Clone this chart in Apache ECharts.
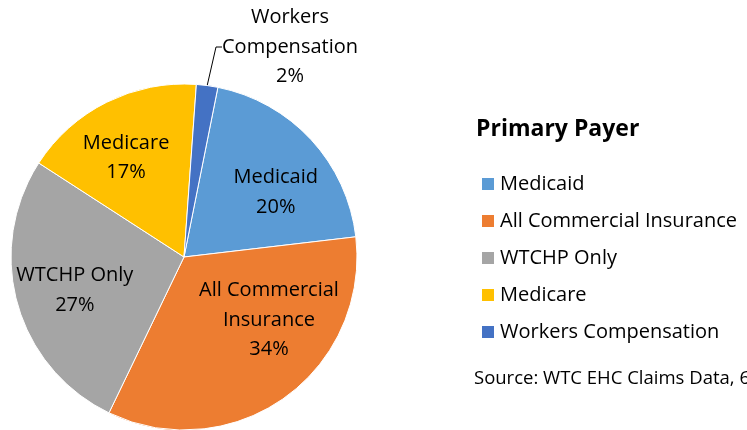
<!DOCTYPE html>
<html><head><meta charset="utf-8">
<script src="https://cdn.jsdelivr.net/npm/echarts@6/dist/echarts.min.js"></script>
<style>html,body{margin:0;padding:0;background:#fff}#c{width:747px;height:430px}</style>
</head><body><div id="c"></div>
<script>
const categories = ['Medicaid', 'All Commercial Insurance', 'WTCHP Only', 'Medicare', 'Workers Compensation'];
const values = [20, 34, 27, 17, 2];
const sliceLabels = ['Medicaid', 'All Commercial\nInsurance', 'WTCHP Only', 'Medicare', 'Workers\nCompensation'];
const colors = ['#5B9BD5', '#ED7D31', '#A5A5A5', '#FFC000', '#4472C4'];
const labelShift = [[26, -4], [33, -10], [-23, 9], [-18, -19], null];
const FONT = 'Open Sans';

const chart = echarts.init(document.getElementById('c'), null, {renderer: 'canvas'});
const data = categories.map((c, i) => {
  const d = {name: c, value: values[i], itemStyle: {color: colors[i]}};
  if (labelShift[i]) {
    d.label = {position: 'inside', offset: labelShift[i]};
  } else {
    d.label = {position: 'outside'};
    d.labelLine = {show: true, length: 30, length2: 6, lineStyle: {color: '#000', width: 1}};
  }
  return d;
});
chart.setOption({
  animation: false,
  title: [{
    text: 'Primary Payer', left: 476, top: 118, padding: 0,
    textStyle: {fontFamily: FONT, fontSize: 23, fontWeight: 'bold', color: '#000'}
  }, {
    text: 'Source: WTC EHC Claims Data, 6/30/2016', left: 474, top: 369, padding: 0,
    textStyle: {fontFamily: FONT, fontSize: 18.5, fontWeight: 'normal', color: '#000'}
  }],
  legend: {
    orient: 'vertical', left: 480, top: 174, padding: 0, itemWidth: 14, itemHeight: 14, itemGap: 17,
    icon: 'rect', data: categories,
    textStyle: {fontFamily: FONT, fontSize: 20, lineHeight: 20, color: '#000'}
  },
  series: [{
    type: 'pie', center: [184, 257], radius: 173, startAngle: 78.7, clockwise: true,
    avoidLabelOverlap: false,
    itemStyle: {borderColor: '#fff', borderWidth: 1},
    label: {
      show: true, fontFamily: FONT, fontSize: 20, color: '#000', lineHeight: 29.5, align: 'center',
      formatter: p => sliceLabels[p.dataIndex] + '\n' + p.value + '%'
    },
    labelLayout: function (p) {
      if (p.dataIndex === 4) {
        return {x: 290, y: 47, align: 'center', verticalAlign: 'middle'};
      }
      return {};
    },
    emphasis: {disabled: true},
    data: data
  }]
});
</script></body></html>
